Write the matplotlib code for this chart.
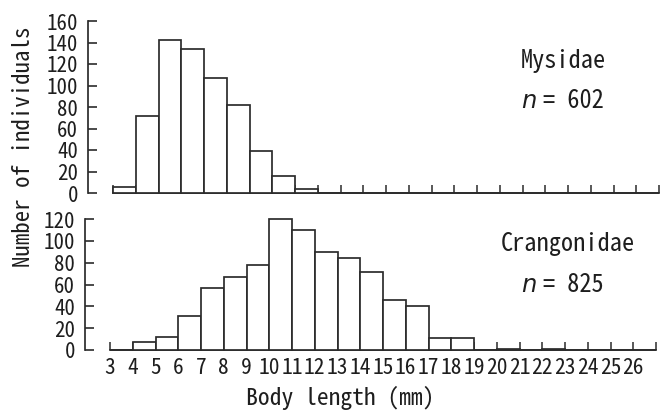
import matplotlib
matplotlib.use("Agg")
import matplotlib.pyplot as plt

plt.rcParams['font.family'] = ['Noto Sans Mono CJK JP', 'DejaVu Sans Mono']

# body length classes (left edge of each 1 mm bin)
bins = list(range(3, 27))
mysidae = [6, 72, 142, 134, 107, 82, 39, 16, 4, 0, 0, 0,
           0, 0, 0, 0, 0, 0, 0, 0, 0, 0, 0, 0]
crangonidae = [0, 7, 12, 31, 57, 67, 78, 120, 110, 90, 84, 71,
               46, 40, 11, 11, 0, 1, 0, 1, 0, 0, 0, 0]
x_ticks = list(range(3, 28))
x_labels = [str(v) for v in range(3, 27)] + ['']

W, H = 665, 417
ink = '#2b2b2b'

fig = plt.figure(figsize=(W / 100, H / 100), dpi=100)


def box(x0, x1, y0, y1):
    # pixel box -> figure fraction rect
    return [x0 / W, 1 - y0 / H, (x1 - x0) / W, (y0 - y1) / H]


ax1 = fig.add_axes(box(113, 659, 193, 21))
ax2 = fig.add_axes(box(110, 656, 350, 219))


def style(ax, counts, ymax, yticks, labels):
    ax.bar(bins, counts, width=1, align='edge', facecolor='white',
           edgecolor=ink, linewidth=1.25, clip_on=False, zorder=3)
    ax.set_xlim(3, 27)
    ax.set_ylim(0, ymax)
    ax.spines['top'].set_visible(False)
    ax.spines['right'].set_visible(False)
    ax.spines['left'].set_position(('outward', 18))
    for s in ('left', 'bottom'):
        ax.spines[s].set_color(ink)
        ax.spines[s].set_linewidth(1.25)
    ax.set_yticks(yticks)
    ax.set_xticks(x_ticks)
    ax.set_xticklabels(labels)
    ax.tick_params(axis='y', direction='in', length=6.5, width=1.2,
                   color=ink, labelsize=15, pad=7, labelcolor='#1e1e1e')
    ax.tick_params(axis='x', direction='in', length=5.5, width=1.1,
                   color=ink, labelsize=15.5, pad=5, labelcolor='#1e1e1e')
    ax.patch.set_visible(False)


style(ax1, mysidae, 160, range(0, 161, 20), [''] * len(x_ticks))
style(ax2, crangonidae, 120, range(0, 121, 20), x_labels)


def px(x, y):
    return x / W, 1 - y / H


txt = dict(fontsize=17.5, va='center', color='#1e1e1e')
fig.text(*px(521, 61), 'Mysidae', ha='left', **txt)
fig.text(*px(521, 101), 'n', family='DejaVu Sans', style='italic', ha='left', **txt)
fig.text(*px(543, 101), '= 602', ha='left', **txt)

fig.text(*px(501, 244), 'Crangonidae', ha='left', **txt)
fig.text(*px(521, 285), 'n', family='DejaVu Sans', style='italic', ha='left', **txt)
fig.text(*px(543, 285), '= 825', ha='left', **txt)

fig.text(*px(340, 398), 'Body length (mm)', fontsize=17, ha='center', va='center',
         color='#1e1e1e')
fig.text(*px(24, 147), 'Number of individuals', fontsize=16.5, rotation=90,
         ha='center', va='center', color='#1e1e1e')

fig.savefig('out.png', dpi=100)
